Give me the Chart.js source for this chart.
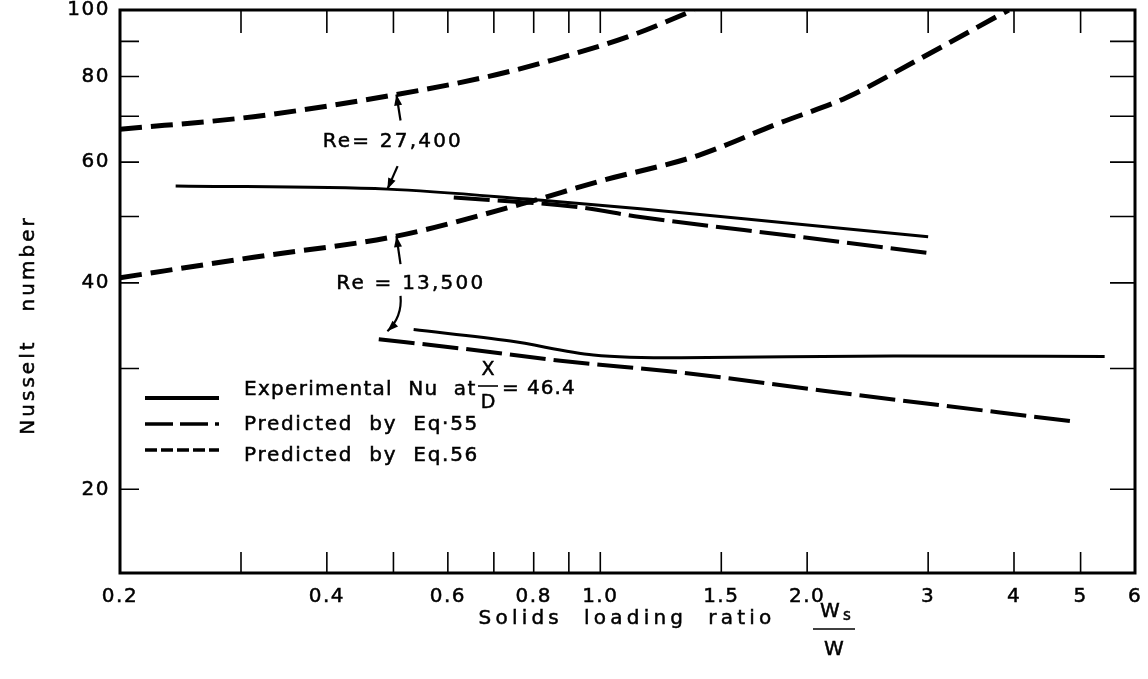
<!DOCTYPE html>
<html>
<head>
<meta charset="utf-8">
<title>Nusselt number vs solids loading ratio</title>
<script src="https://cdn.jsdelivr.net/npm/chart.js@4.4.1/dist/chart.umd.min.js"></script>
<style>
  html, body { margin: 0; padding: 0; background: #fff; }
  #wrap { width: 1148px; height: 679px; }
</style>
</head>
<body>
<div id="wrap"><canvas id="nusseltChart"></canvas></div>
<script>
// solids loading ratio Ws/W and Nusselt number along each curve
const exp27400X = [0.241, 0.49, 0.783, 1.143, 1.95, 3.0];
const exp27400Nu = [55.4, 54.8, 53.0, 51.3, 48.7, 46.7];
const eq55Re27400X = [0.612, 0.926, 1.143, 1.95, 3.02];
const eq55Re27400Nu = [53.3, 51.6, 49.9, 46.7, 44.2];
const eq56Re27400X = [0.2, 0.313, 0.505, 0.684, 0.854, 1.116, 1.37];
const eq56Re27400Nu = [67.0, 69.9, 75.3, 79.9, 84.6, 92.0, 100];

const exp13500X = [0.535, 0.74, 0.977, 1.31, 2.67, 5.42];
const exp13500Nu = [34.2, 32.9, 31.4, 31.1, 31.3, 31.25];
const eq55Re13500X = [0.476, 0.626, 0.875, 1.31, 2.14, 4.9];
const eq55Re13500Nu = [33.1, 32.1, 30.8, 29.6, 27.8, 25.1];
const eq56Re13500X = [0.2, 0.313, 0.505, 0.766, 1.0, 1.39, 1.8, 2.28, 2.88, 3.93];
const eq56Re13500Nu = [40.7, 43.6, 46.8, 52.1, 56.3, 61.4, 68.1, 74.5, 84.3, 100];

// axis ticks
const xTickValues = [0.2, 0.4, 0.6, 0.8, 1.0, 1.5, 2.0, 3, 4, 5, 6];
const xTickText = ['0.2', '0.4', '0.6', '0.8', '1.0', '1.5', '2.0', '3', '4', '5', '6'];
const xTickMarks = [0.3, 0.4, 0.5, 0.6, 0.7, 0.8, 0.9, 1.0, 1.5, 2, 3, 4, 5];
const yTickValues = [20, 40, 60, 80, 100];
const yTickMarks = [20, 30, 40, 50, 60, 70, 80, 90];

// Reynolds number callouts (anchored in data units)
const reText = ['Re= 27,400', 'Re = 13,500'];
const reTextX = [0.499, 0.530];
const reTextNu = [64.3, 39.9];
const arrowFromX = [0.512, 0.507, 0.512, 0.512];
const arrowFromNu = [69.0, 59.2, 42.6, 38.3];
const arrowToX = [0.505, 0.490, 0.505, 0.490];
const arrowToNu = [75.3, 54.8, 46.8, 34.0];
const arrowBend = [0, 0, 0, -9];

const FONT = '"DejaVu Sans", Verdana, sans-serif';
const SOLID = [];
const EQ55_DASH = [36, 8];
const EQ56_DASH = [22, 9];
const TEXT_WEIGHT = 0.5; // stroke added around glyphs so the lettering reads heavier

function pts(xs, ys) {
    return xs.map((x, i) => ({ x: x, y: ys[i] }));
}

function line(label, xs, ys, dash, width) {
    return {
        label: label,
        data: pts(xs, ys),
        borderColor: '#000',
        borderWidth: width,
        borderDash: dash,
        pointRadius: 0,
        cubicInterpolationMode: 'monotone',
        fill: false
    };
}

function spacedText(ctx, text, x, y, spacing, align) {
    ctx.letterSpacing = spacing + 'px';
    ctx.textAlign = align || 'left';
    ctx.fillText(text, x, y);
    ctx.save();
    ctx.setLineDash([]);
    ctx.lineWidth = TEXT_WEIGHT;
    ctx.strokeText(text, x, y);
    ctx.restore();
}

function drawArrow(ctx, x0, y0, x1, y1, bend) {
    const dx = x1 - x0, dy = y1 - y0, len = Math.hypot(dx, dy);
    const cx = (x0 + x1) / 2 - dy / len * bend;
    const cy = (y0 + y1) / 2 + dx / len * bend;
    ctx.beginPath();
    ctx.moveTo(x0, y0);
    ctx.quadraticCurveTo(cx, cy, x1, y1);
    ctx.stroke();
    const ang = Math.atan2(y1 - cy, x1 - cx);
    const hl = 11, hw = 4;
    const c = Math.cos(ang), s = Math.sin(ang);
    ctx.beginPath();
    ctx.moveTo(x1, y1);
    ctx.lineTo(x1 - hl * c + hw * s, y1 - hl * s - hw * c);
    ctx.lineTo(x1 - hl * c - hw * s, y1 - hl * s + hw * c);
    ctx.closePath();
    ctx.fill();
}

const decorations = {
    id: 'decorations',
    beforeDraw(chart) {
        chart.ctx.letterSpacing = '1.5px';
    },
    afterDraw(chart) {
        const ctx = chart.ctx;
        const area = chart.chartArea;
        const xs = chart.scales.x, ys = chart.scales.y;
        ctx.save();
        ctx.strokeStyle = '#000';
        ctx.fillStyle = '#000';
        ctx.setLineDash([]);

        // frame
        ctx.lineWidth = 3;
        ctx.strokeRect(area.left, area.top, area.right - area.left, area.bottom - area.top);

        // inward tick marks on all four sides
        ctx.lineWidth = 1.6;
        ctx.beginPath();
        xTickMarks.forEach(v => {
            const p = xs.getPixelForValue(v);
            ctx.moveTo(p, area.top); ctx.lineTo(p, area.top + 23);
            ctx.moveTo(p, area.bottom); ctx.lineTo(p, area.bottom - 21);
        });
        yTickMarks.forEach(v => {
            const p = ys.getPixelForValue(v);
            ctx.moveTo(area.left, p); ctx.lineTo(area.left + 19, p);
            ctx.moveTo(area.right, p); ctx.lineTo(area.right - 25, p);
        });
        ctx.stroke();

        // Re callouts
        ctx.font = '20px ' + FONT;
        ctx.textBaseline = 'middle';
        reText.forEach((t, i) => {
            spacedText(ctx, t, xs.getPixelForValue(reTextX[i]), ys.getPixelForValue(reTextNu[i]), 2.2, 'center');
        });
        ctx.lineWidth = 2.2;
        arrowFromX.forEach((fx, i) => {
            drawArrow(ctx,
                xs.getPixelForValue(fx), ys.getPixelForValue(arrowFromNu[i]),
                xs.getPixelForValue(arrowToX[i]), ys.getPixelForValue(arrowToNu[i]),
                arrowBend[i]);
        });

        // legend
        const lx0 = area.left + 25, lx1 = area.left + 99, tx = area.left + 124;
        const rows = [
            { y: 398, ty: 390, dash: [], w: 4 },
            { y: 424, ty: 425, dash: [28, 7], w: 3.5 },
            { y: 450, ty: 456, dash: [12, 4], w: 3.5 }
        ];
        rows.forEach(r => {
            ctx.setLineDash(r.dash);
            ctx.lineWidth = r.w;
            ctx.beginPath();
            ctx.moveTo(lx0, r.y); ctx.lineTo(lx1, r.y);
            ctx.stroke();
        });
        ctx.setLineDash([]);
        ctx.font = '20px ' + FONT;
        spacedText(ctx, 'Experimental  Nu  at', tx, rows[0].ty, 1.3, 'left');
        spacedText(ctx, 'Predicted  by  Eq\u00b755', tx, rows[1].ty, 1.7, 'left');
        spacedText(ctx, 'Predicted  by  Eq.56', tx, rows[2].ty, 1.7, 'left');
        // X / D fraction
        ctx.font = '19px ' + FONT;
        spacedText(ctx, 'X', 488, 370, 0, 'center');
        spacedText(ctx, 'D', 488, 403, 0, 'center');
        ctx.lineWidth = 1.6;
        ctx.beginPath(); ctx.moveTo(478, 386); ctx.lineTo(498, 386); ctx.stroke();
        ctx.font = '20px ' + FONT;
        spacedText(ctx, '= 46.4', 502, 389, 1, 'left');

        // axis titles
        ctx.font = '20px ' + FONT;
        spacedText(ctx, 'Solids  loading  ratio', 627, 619, 4.2, 'center');
        spacedText(ctx, 'W', 830, 612, 0, 'center');
        ctx.font = '15px ' + FONT;
        spacedText(ctx, 's', 847, 616, 0, 'center');
        ctx.font = '20px ' + FONT;
        spacedText(ctx, 'W', 834, 650, 0, 'center');
        ctx.lineWidth = 1.6;
        ctx.beginPath(); ctx.moveTo(813, 629); ctx.lineTo(855, 629); ctx.stroke();

        ctx.translate(29, 325);
        ctx.rotate(-Math.PI / 2);
        spacedText(ctx, 'Nusselt   number', 0, 0, 3, 'center');
        ctx.restore();
    }
};

const tickFont = { family: FONT, size: 20 };

new Chart(document.getElementById('nusseltChart'), {
    type: 'line',
    data: {
        datasets: [
            line('Experimental Nu, Re = 27,400', exp27400X, exp27400Nu, SOLID, 3),
            line('Predicted by Eq. 55, Re = 27,400', eq55Re27400X, eq55Re27400Nu, EQ55_DASH, 4),
            line('Predicted by Eq. 56, Re = 27,400', eq56Re27400X, eq56Re27400Nu, EQ56_DASH, 5),
            line('Experimental Nu, Re = 13,500', exp13500X, exp13500Nu, SOLID, 3),
            line('Predicted by Eq. 55, Re = 13,500', eq55Re13500X, eq55Re13500Nu, EQ55_DASH, 4),
            line('Predicted by Eq. 56, Re = 13,500', eq56Re13500X, eq56Re13500Nu, EQ56_DASH, 5)
        ]
    },
    options: {
        responsive: true,
        maintainAspectRatio: false,
        animation: false,
        layout: { padding: { top: 10, right: 13, left: 0, bottom: 0 } },
        plugins: {
            legend: { display: false },
            tooltip: { enabled: false }
        },
        scales: {
            x: {
                type: 'logarithmic',
                min: 0.2,
                max: 6,
                afterBuildTicks: scale => { scale.ticks = xTickValues.map(v => ({ value: v })); },
                afterFit: scale => {
                    scale.height = 106;
                    scale.paddingLeft = 0;
                    scale.paddingRight = 0;
                },
                grid: { display: false, drawTicks: false },
                border: { display: false },
                ticks: {
                    color: '#000',
                    font: tickFont,
                    padding: 12,
                    autoSkip: false,
                    maxRotation: 0,
                    textStrokeColor: '#000',
                    textStrokeWidth: TEXT_WEIGHT,
                    callback: (value, index) => xTickText[index]
                }
            },
            y: {
                type: 'logarithmic',
                min: 15.1,
                max: 100,
                afterBuildTicks: scale => { scale.ticks = yTickValues.map(v => ({ value: v })); },
                afterFit: scale => {
                    scale.width = 120;
                    scale.paddingTop = 0;
                    scale.paddingBottom = 0;
                },
                grid: { display: false, drawTicks: false },
                border: { display: false },
                ticks: {
                    color: '#000',
                    font: tickFont,
                    padding: 10,
                    textStrokeColor: '#000',
                    textStrokeWidth: TEXT_WEIGHT,
                    callback: value => String(value)
                }
            }
        }
    },
    plugins: [decorations]
});
</script>
</body>
</html>
